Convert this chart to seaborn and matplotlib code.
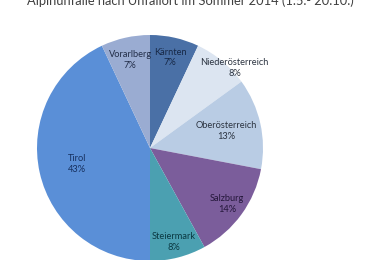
import numpy as np
import matplotlib
matplotlib.use("Agg")
import matplotlib.pyplot as plt
import seaborn as sns

title = "Alpinunfälle nach Unfallort im Sommer 2014 (1.5.- 20.10.)"
regions = ["Kärnten", "Niederösterreich", "Oberösterreich", "Salzburg",
           "Steiermark", "Tirol", "Vorarlberg"]
shares = [7, 8, 13, 14, 8, 43, 7]
colors = ["#4a70a6", "#dce5f1", "#b9cce4", "#7b5d9b", "#4ba0b1", "#5a8fd7", "#9aacd2"]
text_colors = ["#172846", "#2b3340", "#2b3340", "#24173a", "#0b3942", "#16305f", "#222d48"]
label_radius = [0.82, 1.03, 0.69, 0.84, 0.86, 0.66, 0.80]
label_angle_shift = [0, 7, 0, 0, 0, 0, 0]

sns.set_theme(style="white")
plt.rcParams['font.family'] = ['Lato', 'DejaVu Sans']

fig = plt.figure(figsize=(3.8, 2.6), dpi=100)
fig.patch.set_facecolor("white")
ax = fig.add_axes([37 / 380, -1 / 260, 226 / 380, 226 / 260])

wedges, _ = ax.pie(shares, colors=colors, startangle=90, counterclock=False,
                   radius=1.0, wedgeprops=dict(linewidth=0))
ax.set_xlim(-1, 1)
ax.set_ylim(-1, 1)
ax.set_aspect("equal")
ax.axis("off")

for w, name, val, r, shift, tc in zip(wedges, regions, shares, label_radius,
                                      label_angle_shift, text_colors):
    ang = np.deg2rad((w.theta1 + w.theta2) / 2 - shift)
    ax.text(r * np.cos(ang), r * np.sin(ang), f"{name}\n{val}%",
            ha="center", va="center", fontsize=6.7, color=tc,
            linespacing=1.25)

fig.text(0.5, 1 - 5 / 260, title, ha="center", va="baseline",
         fontsize=9.3, color="#404040")

fig.savefig("out.png", dpi=100, facecolor="white")
